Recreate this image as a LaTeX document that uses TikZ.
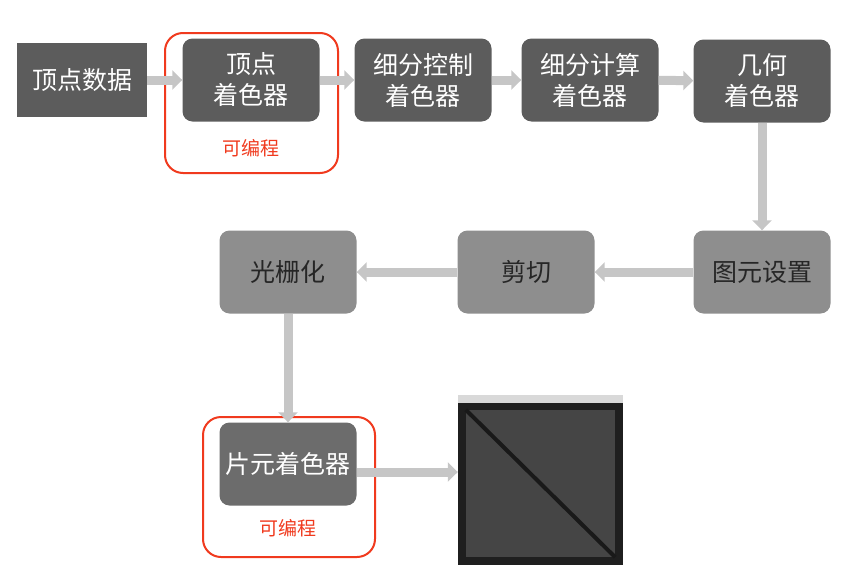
\documentclass[tikz,border=0pt]{standalone}
\usepackage{fontspec}
\newfontfamily\cjk{Noto Sans CJK SC}
\usetikzlibrary{arrows.meta}
\definecolor{darkbox}{HTML}{5C5C5C}
\definecolor{midbox}{HTML}{6C6C6C}
\definecolor{lightbox}{HTML}{8E8E8E}
\definecolor{flowgray}{HTML}{C6C6C6}
\definecolor{markred}{HTML}{F03A1E}
\tikzset{
  stage/.style={minimum width=137pt,minimum height=83pt,rounded corners=10pt,
    align=center,text=white,font=\cjk\fontsize{25}{31}\selectfont,inner sep=0pt},
  darkstage/.style={stage,fill=darkbox},
  lightstage/.style={stage,fill=lightbox,text=black!85},
  flow/.style={draw=flowgray,line width=9pt,-{Triangle[length=10pt,width=19pt]}},
  progbox/.style={draw=markred,line width=2pt,rounded corners=18pt},
  proglabel/.style={text=markred,font=\cjk\fontsize{19}{21}\selectfont}
}
\begin{document}
\begin{tikzpicture}[x=1pt,y=-1pt]
      \useasboundingbox (0,0) rectangle (854,584);
      % top row
      \node[darkstage,rounded corners=0pt,minimum width=130pt,minimum height=74pt] (data) at (82,80) {顶点数据};
      \node[darkstage] (vs) at (251,80) {顶点\\着色器};
      \node[darkstage] (tcs) at (423,80) {细分控制\\着色器};
      \node[darkstage] (tes) at (590,80) {细分计算\\着色器};
      \node[darkstage] (gs) at (762,81) {几何\\着色器};
      % middle row
      \node[lightstage] (setup) at (762,272) {图元设置};
      \node[lightstage] (clip) at (526,272) {剪切};
      \node[lightstage] (rast) at (288,272) {光栅化};
      % bottom row
      \node[stage,fill=midbox] (fs) at (288,464) {片元着色器};
      \draw[progbox] (165,33) rectangle (338,173);
      \node[proglabel] (vsprog) at (251,148) {可编程};
      \draw[progbox] (203,417) rectangle (375,557);
      \node[proglabel] (fsprog) at (288,528) {可编程};
      % output window
      \node[fill=black!88,minimum width=165pt,minimum height=170pt,inner sep=0pt] (win) at (540.5,480) {};
      \fill[black!15] (win.north west) rectangle ([yshift=-8pt]win.north east);
      \fill[black!73] ([xshift=8pt,yshift=-15pt]win.north west) rectangle ([xshift=-8pt,yshift=8pt]win.south east);
      \draw[black!90,line width=4pt] ([xshift=8pt,yshift=-15pt]win.north west) -- ([xshift=-8pt,yshift=8pt]win.south east);
      % connectors
      \draw[flow] (data) -- (vs);
      \draw[flow] (vs) -- (tcs);
      \draw[flow] (tcs) -- (tes);
      \draw[flow] (tes) -- (gs);
      \draw[flow] (gs) -- (setup);
      \draw[flow] (setup) -- (clip);
      \draw[flow] (clip) -- (rast);
      \draw[flow] (rast) -- (fs);
      \draw[flow] ([yshift=-8pt]fs.east) -- ([yshift=-8pt]fs.east -| win.west);
    \end{tikzpicture}
\end{document}
